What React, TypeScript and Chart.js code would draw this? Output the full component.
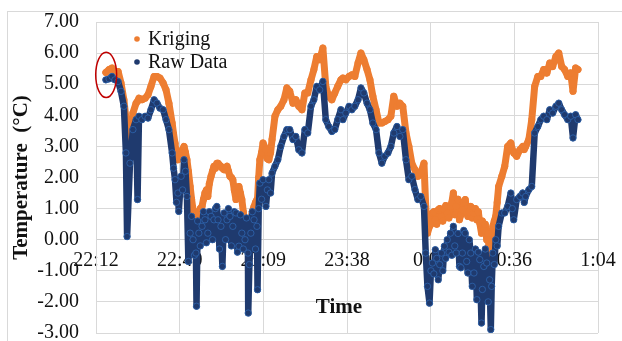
import { useEffect, useRef } from 'react';
import { Chart, registerables } from 'chart.js';

Chart.register(...registerables);

// ---- Data (minutes after 22:12, temperature in °C) ----
const seriesNames = ['Kriging', 'Raw Data'];
const tickLabels = ['22:12', '22:40', '23:09', '23:38', '0:07', '0:36', '1:04'];
const tickStepMin = 28.8;
const yMin = -3;
const yMax = 7;
const yTitle = 'Temperature  (°C)';
const xTitle = 'Time';

const timeMin = [
  3.4, 4.5, 5.5, 6.5, 7.6, 8.6, 9.6, 10.3, 10.7, 11.7, 12.7, 13.8, 14.3, 14.8, 15.8, 16.9, 17.9, 18.9, 20.0, 21.0,
  22.0, 23.1, 24.1, 25.1, 26.2, 27.2, 28.2, 28.5, 29.3, 30.3, 31.3, 31.8, 32.4, 33.4, 34.4, 34.6, 35.4, 36.5, 37.5, 38.5,
  39.6, 40.6, 41.6,
  42.0, 43.0, 43.5, 44.1, 45.1, 46.1, 47.1, 48.2, 49.2, 50.2, 51.3, 52.3, 52.4, 53.3, 54.4, 55.4, 55.6, 56.4, 57.5, 58.5,
  59.5, 60.6, 61.6, 62.6, 63.6, 64.7, 65.7, 66.7, 67.8, 68.8, 69.8, 70.9, 71.9, 72.9, 74.0, 75.0, 76.0, 77.0, 78.1, 79.1,
  80.1, 81.2, 82.2, 83.2, 84.3,
  85.0, 86.0, 87.1, 88.1, 89.1, 90.2, 91.2, 92.2, 93.3, 94.3, 95.3, 96.4, 97.4, 98.4, 99.4, 100.5, 101.5, 102.5, 103.6, 104.6,
  105.6, 106.7, 107.7, 108.7, 109.8, 110.8, 111.8, 112.9, 113.5, 114.1, 114.8, 115.8, 116.8, 117.8, 118.9, 119.9, 120.9, 122.0, 123.0, 124.0,
  125.1, 126.1, 127.1,
  128.0, 129.0, 130.1, 131.1, 132.1, 132.7, 133.5, 134.5, 135.5, 135.9, 136.6, 137.6, 138.6, 139.7, 140.7, 141.7, 142.8, 143.8, 144.8, 145.9,
  146.9, 147.9, 149.0, 150.0, 151.0, 152.1, 153.1, 154.1, 155.2, 156.2, 157.2, 158.3, 159.3, 160.3, 161.3, 162.4, 163.4, 164.2, 165.1, 165.9,
];

const kriging = [
  5.38, 5.47, 5.52, 5.41, 5.41, 5.04, 4.50, 3.90, 3.20, 2.70, 4.07, 4.39, 4.45, 4.55, 4.50, 4.55, 4.66, 4.93, 5.25, 5.25,
  5.20, 5.04, 4.82, 4.39, 3.75, 3.10, 2.57, 2.60, 2.79, 3.00, 2.57, 2.20, 1.71, 0.96, 0.64, 0.60, 0.86, 1.07, 1.50, 1.39,
  2.04, 2.36, 2.46,
  2.46, 2.36, 2.30, 2.25, 2.36, 2.04, 1.93, 1.29, 1.71, 1.29, 0.43, 0.21, 0.20, 0.64, 1.07, 1.29, 1.30, 2.57, 3.11, 2.89,
  2.57, 3.22, 3.97, 4.18, 4.29, 4.50, 4.88, 4.77, 4.39, 4.50, 4.29, 4.18, 4.72, 4.72, 5.14, 5.47, 5.89, 5.79, 6.16, 4.93,
  4.61, 4.50, 4.72, 4.93, 5.14,
  5.20, 5.14, 5.25, 5.30, 5.25, 5.68, 6.00, 5.79, 5.47, 5.14, 4.61, 4.18, 3.75, 3.75, 3.80, 3.86, 3.97, 4.61, 4.29, 4.39,
  4.29, 3.43, 3.00, 2.46, 2.25, 2.04, 2.14, 2.46, 1.07, 0.21, 0.43, 0.86, 0.64, 0.96, 0.75, 0.96, 0.86, 1.07, 1.50, 1.07,
  0.64, 0.96, 1.29,
  0.75, 1.07, 0.86, 0.64, 0.54, 0.21, 0.32, 0.00, -0.86, -0.43, 0.43, 0.75, 1.71, 2.04, 2.36, 3.00, 3.11, 2.79, 2.68, 2.89,
  3.00, 3.00, 3.22, 3.86, 4.93, 5.25, 5.25, 5.47, 5.36, 5.68, 5.57, 5.89, 6.00, 5.57, 5.47, 5.25, 5.36, 4.77, 5.52, 5.47,
];

const rawData = [
  5.14, 5.17, 5.25, 5.14, 5.09, 4.77, 4.29, 2.79, 0.10, 2.46, 3.54, 3.86, 1.29, 3.97, 3.86, 3.97, 3.91, 4.18, 4.50, 4.39,
  4.23, 4.18, 3.86, 3.54, 2.79, 1.93, 1.50, 0.91, 2.04, 2.57, 1.39, -0.70, 0.21, 0.00, -0.43, -2.14, 0.21, 0.43, 0.64, 0.21,
  0.75, 0.64, 1.07,
  0.64, 0.43, -0.86, 0.86, 0.64, 0.75, 0.43, 0.86, -0.21, 0.21, 0.00, -0.43, -2.36, 0.21, 0.64, 0.43, -1.61, 1.82, 1.93, 1.07,
  1.93, 2.14, 2.36, 2.57, 3.00, 3.32, 3.54, 3.54, 3.22, 3.32, 2.89, 2.79, 3.54, 3.43, 4.29, 4.50, 4.93, 4.82, 5.09, 3.86,
  3.64, 3.48, 3.54, 3.86, 4.18,
  3.86, 4.07, 4.29, 4.18, 4.29, 4.50, 4.88, 4.72, 4.39, 4.18, 3.75, 3.54, 2.79, 2.46, 2.68, 2.79, 3.00, 3.43, 3.64, 3.32,
  3.54, 2.57, 1.93, 2.04, 1.61, 1.29, 1.39, 1.07, -0.43, -1.50, -2.04, -0.75, -0.32, -1.29, -0.43, -0.21, 0.00, 0.21, 0.43, -0.43,
  -0.86, -0.43, 0.21,
  -1.07, -0.43, -1.07, -1.93, -0.64, -2.68, -0.86, -0.75, -1.29, -2.89, -0.43, 0.00, 0.43, 0.86, 0.86, 1.07, 1.50, 0.64, 1.29, 1.39,
  1.50, 1.39, 1.61, 1.71, 3.43, 3.64, 3.86, 3.97, 3.86, 4.18, 4.07, 4.29, 4.39, 4.18, 4.02, 3.86, 3.97, 3.27, 4.02, 3.86,
];

// additional readings inside the noisy stretches (upper/lower edges of the bands)
const extraTime = [
  26.7, 27.7, 29.8, 30.8, 32.9, 33.9, 35.0, 35.9, 37.0, 38.0, 39.0, 40.1, 41.1,
  42.5, 44.6, 45.6, 46.6, 47.6, 48.7, 49.7, 50.7, 51.8, 52.8, 53.8, 54.9, 56.0, 57.0, 59.0, 60.1,
  115.3, 116.3, 117.3, 118.3, 119.4, 120.4, 121.5, 122.5, 123.5, 124.6, 125.6, 126.6, 127.6,
  128.5, 129.5, 130.6, 131.6, 133.0, 134.0, 135.0, 136.2, 137.1, 138.1, 143.3, 147.4,
];
const extraKriging = [
  3.40, 2.70, 2.90, 2.80, 1.30, 0.80, 0.70, 1.00, 1.30, 1.60, 1.80, 2.20, 2.30,
  2.40, 2.30, 2.20, 2.00, 1.60, 1.50, 1.50, 0.90, 0.30, 0.50, 0.90, 1.20, 2.00, 2.80, 2.60, 2.80,
  0.50, 0.90, 0.50, 1.00, 0.60, 1.10, 0.70, 1.20, 0.80, 1.30, 0.80, 1.20, 0.90,
  0.90, 0.70, 1.00, 0.90, 0.60, 0.50, 0.20, 0.00, 0.60, 1.20, 2.90, 2.90,
];
const extraRaw = [
  2.30, 1.20, 1.60, 2.20, 0.75, -0.50, 0.60, -0.20, 0.90, -0.10, 0.90, 0.00, 1.00,
  -0.30, 0.00, 1.00, -0.20, 0.90, -0.40, 0.80, -0.30, 0.70, -0.80, 0.90, -0.30, 1.00, 1.30, 1.60, 1.50,
  -1.00, -1.10, -0.60, -0.80, -1.00, -0.60, -0.40, -0.50, -0.20, 0.20, -0.90, 0.30, -0.70,
  0.00, -1.50, -0.30, -0.40, -1.60, -0.30, -2.00, -1.50, -0.80, -0.20, 1.00, 1.20,
];

// highlighted start region (red ellipse), in data units
const highlight = { t: 3.5, temp: 5.3, halfT: 3.6, halfTemp: 0.73 };

const ORANGE = '#ED7D31';
const NAVY = '#1F3A6E';
const NAVY_EDGE = '#2E66B0';
const GRID = '#D9D9D9';
const TEXT = '#111111';
const SERIF = "'Liberation Serif', 'Times New Roman', serif";

const decorPlugin = {
  id: 'decor',
  beforeDraw(chart: any) {
    const { ctx } = chart;
    ctx.save();
    ctx.strokeStyle = GRID;
    ctx.lineWidth = 1;
    ctx.strokeRect(7.5, 11.5, 900, 600);
    ctx.restore();
  },
  afterDatasetsDraw(chart: any) {
    const { ctx, scales } = chart;
    const xs = scales.x;
    const ys = scales.y;
    ctx.save();
    // red ellipse annotation
    const cx = xs.getPixelForValue(highlight.t);
    const cy = ys.getPixelForValue(highlight.temp);
    const rx = xs.getPixelForValue(highlight.t + highlight.halfT) - cx;
    const ry = cy - ys.getPixelForValue(highlight.temp + highlight.halfTemp);
    ctx.beginPath();
    ctx.ellipse(cx, cy, rx, ry, 0, 0, Math.PI * 2);
    ctx.strokeStyle = '#C00000';
    ctx.lineWidth = 1.5;
    ctx.stroke();

    // legend
    ctx.font = `20px ${SERIF}`;
    ctx.textAlign = 'left';
    ctx.textBaseline = 'alphabetic';
    chart.data.datasets.forEach((ds: any, i: number) => {
      const y = 39 + i * 23;
      ctx.beginPath();
      ctx.arc(137, y, 2.8, 0, Math.PI * 2);
      ctx.fillStyle = ds.pointBackgroundColor;
      ctx.fill();
      ctx.fillStyle = TEXT;
      ctx.fillText(ds.label, 148, y + 6);
    });

    // x axis title
    ctx.font = `bold 21px ${SERIF}`;
    ctx.textAlign = 'center';
    ctx.fillStyle = TEXT;
    ctx.fillText(xTitle, 339, 313);
    ctx.restore();
  },
};

export default function App() {
  const ref = useRef<HTMLCanvasElement>(null);

  useEffect(() => {
    const canvas = ref.current;
    if (!canvas) return;
    const lastTick = tickStepMin * (tickLabels.length - 1);
    const rows = [
      ...timeMin.map((t, i) => ({ t, k: kriging[i], r: rawData[i] })),
      ...extraTime.map((t, i) => ({ t, k: extraKriging[i], r: extraRaw[i] })),
    ].sort((a, b) => a.t - b.t);

    const chart = new Chart(canvas, {
      type: 'scatter',
      data: {
        datasets: [
          {
            label: seriesNames[0],
            data: rows.map((d) => ({ x: d.t, y: d.k })),
            showLine: true,
            borderColor: ORANGE,
            backgroundColor: ORANGE,
            pointBackgroundColor: ORANGE,
            pointBorderColor: ORANGE,
            pointBorderWidth: 0,
            pointRadius: 3.5,
            borderWidth: 7,
            borderJoinStyle: 'round',
            borderCapStyle: 'round',
            tension: 0,
            order: 1,
          } as any,
          {
            label: seriesNames[1],
            data: rows.map((d) => ({ x: d.t, y: d.r })),
            showLine: true,
            borderColor: NAVY,
            backgroundColor: NAVY,
            pointBackgroundColor: NAVY,
            pointBorderColor: NAVY_EDGE,
            pointBorderWidth: 0.8,
            pointRadius: 3.2,
            borderWidth: 6.5,
            borderJoinStyle: 'round',
            borderCapStyle: 'round',
            tension: 0,
            order: 0,
          } as any,
        ],
      },
      options: {
        responsive: false,
        animation: false,
        devicePixelRatio: 1,
        events: [],
        layout: { padding: { left: 0, top: 22, right: 24, bottom: 8 }, autoPadding: false },
        plugins: {
          legend: { display: false },
          tooltip: { enabled: false },
        },
        scales: {
          x: {
            type: 'linear',
            position: { y: 0 } as any,
            min: 0,
            max: lastTick,
            afterFit: (s: any) => {
              s.height = 0;
              s.paddingLeft = 0;
              s.paddingRight = 0;
            },
            afterBuildTicks: (s: any) => {
              s.ticks = tickLabels.map((_, i) => ({ value: i * tickStepMin }));
            },
            ticks: {
              callback: (v: any) => tickLabels[Math.round(Number(v) / tickStepMin)] ?? '',
              font: { family: SERIF, size: 20 },
              color: TEXT,
              padding: 9,
              maxRotation: 0,
              autoSkip: false,
            },
            grid: { color: GRID, drawTicks: false, lineWidth: 1 },
            border: { color: '#CFCFCF' },
          },
          y: {
            type: 'linear',
            min: yMin,
            max: yMax,
            afterFit: (s: any) => {
              s.width = 96;
              s.paddingTop = 0;
              s.paddingBottom = 0;
            },
            ticks: {
              stepSize: 1,
              callback: (v: any) => Number(v).toFixed(2),
              font: { family: SERIF, size: 20 },
              color: TEXT,
              padding: 17,
            },
            grid: { color: GRID, drawTicks: false, lineWidth: 1 },
            border: { color: GRID },
            title: {
              display: true,
              text: yTitle,
              font: { family: SERIF, size: 21, weight: 'bold' },
              color: TEXT,
              padding: { top: 9, bottom: 0 },
            },
          },
        },
      },
      plugins: [decorPlugin],
    });
    return () => chart.destroy();
  }, []);

  return (
    <div style={{ position: 'absolute', left: 0, top: 0, width: 622, height: 341, background: '#fff' }}>
      <canvas ref={ref} width={622} height={341} style={{ display: 'block' }} />
    </div>
  );
}
